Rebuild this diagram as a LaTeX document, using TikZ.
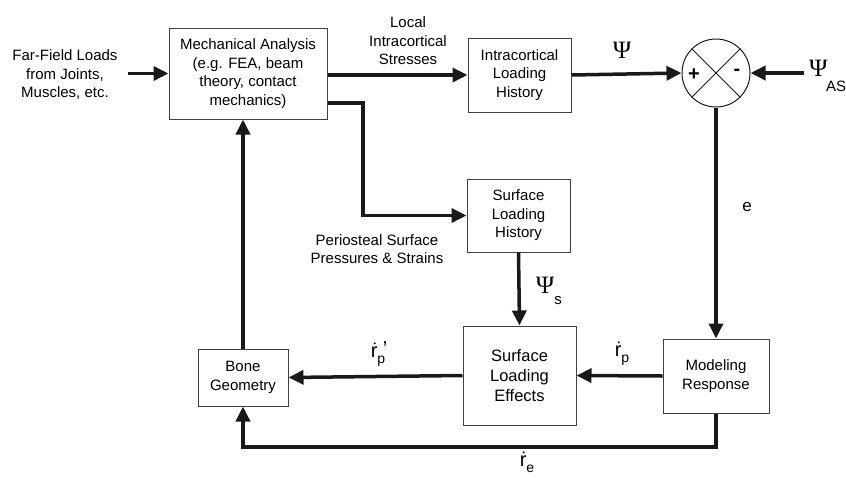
\documentclass[tikz,border=0pt]{standalone}
\usepackage{fontspec}
\setmainfont{Liberation Sans}
\newfontfamily\psifont{Liberation Serif}
\usetikzlibrary{arrows.meta}
\newcommand{\txt}{\fontsize{15}{18.5}\selectfont}
\newcommand{\psisym}{{\psifont\fontsize{25}{25}\selectfont Ψ}}
\begin{document}
\begin{tikzpicture}[x=1pt,y=-1pt,
  blk/.style={draw=black!75,line width=1pt,rectangle,inner sep=0pt,align=center,font=\txt},
  lbl/.style={inner sep=0pt,align=center,font=\txt},
  conn/.style={line width=3.5pt,black!90},
  arr/.style={conn,-{Triangle[length=15pt,width=14pt]}}]
\useasboundingbox (0,0) rectangle (846,480);
% nodes
\node[lbl] (far) at (65,75) {Far-Field Loads\\from Joints,\\Muscles, etc.};
\node[blk,minimum width=158pt,minimum height=91pt] (mech) at (248,73.5) {Mechanical Analysis\\(e.g. FEA, beam\\theory, contact\\mechanics)};
\node[lbl] (local) at (408,41) {Local\\Intracortical\\Stresses};
\node[blk,minimum width=103pt,minimum height=74pt] (intra) at (519.5,75) {Intracortical\\Loading\\History};
\node[circle,draw=black!90,line width=1pt,minimum size=68pt,inner sep=0pt] (sum) at (716,73) {};
\draw[black!90,line width=0.9pt] (sum.north east) -- (sum.south west) (sum.north west) -- (sum.south east);
\node[inner sep=0pt,font=\fontsize{20}{20}\selectfont\bfseries] (plus) at (694,75) {+};
\node[inner sep=0pt,font=\fontsize{20}{20}\selectfont\bfseries] (minus) at (737,72) {-};
\node[inner sep=0pt] (psi) at (622,50) {\psisym};
\node[inner sep=0pt,anchor=west] (psias) at (809,68) {\psisym};
\node[inner sep=0pt,anchor=west,font=\txt] (as) at (826,86) {AS};
\node[lbl] (e) at (747,207) {\fontsize{17}{17}\selectfont e};
\node[blk,minimum width=103pt,minimum height=73pt] (slh) at (518.5,215.5) {Surface\\Loading\\History};
\node[lbl] (peri) at (377,249) {Periosteal Surface\\Pressures \& Strains};
\node[inner sep=0pt] (psis) at (545,285) {\psisym};
\node[inner sep=0pt,font=\txt] (ssub) at (558,301) {s};
\node[blk,minimum width=113pt,minimum height=99pt,font=\fontsize{16.5}{20}\selectfont] (sle) at (519.5,375.5) {Surface\\Loading\\Effects};
\node[blk,minimum width=106pt,minimum height=74pt] (model) at (716,376) {Modeling\\Response};
\node[blk,minimum width=90pt,minimum height=57pt] (bone) at (243,377.5) {Bone\\Geometry};
\node[inner sep=0pt,font=\fontsize{20}{20}\selectfont] (rp) at (622,354) {ṙ\raisebox{-0.3em}{\fontsize{14}{14}\selectfont p}};
\node[inner sep=0pt,font=\fontsize{20}{20}\selectfont] (rpp) at (379,354) {ṙ\raisebox{-0.3em}{\fontsize{14}{14}\selectfont p}\kern-0.12em\raisebox{0.08em}{’}};
\node[inner sep=0pt,font=\fontsize{20}{20}\selectfont] (re) at (527,462) {ṙ\raisebox{-0.3em}{\fontsize{14}{14}\selectfont e}};
\coordinate (bl) at (243,447);
\coordinate (split) at (363,103);
% connectors
\draw[arr] ([xshift=10pt]far.east |- mech.west) -- (mech.west);
\draw[arr] (intra.west -| mech.east) -- (intra.west);
\draw[arr] (intra.east) -- (sum.west);
\draw[arr] ([xshift=-5pt]psias.west |- sum.east) -- (sum.east);
\draw[arr] (sum.south) -- (model.north);
\draw[arr] (mech.east |- split) -- (split) |- (slh.west);
\draw[arr] (slh.south) -- (sle.north);
\draw[arr] (model.west) -- (sle.east);
\draw[arr] (sle.west) -- (bone.east);
\draw[arr] (model.south) |- (bl) -- (bone.south);
\draw[arr] (bone.north) -- (bone.north |- mech.south);
\end{tikzpicture}
\end{document}
